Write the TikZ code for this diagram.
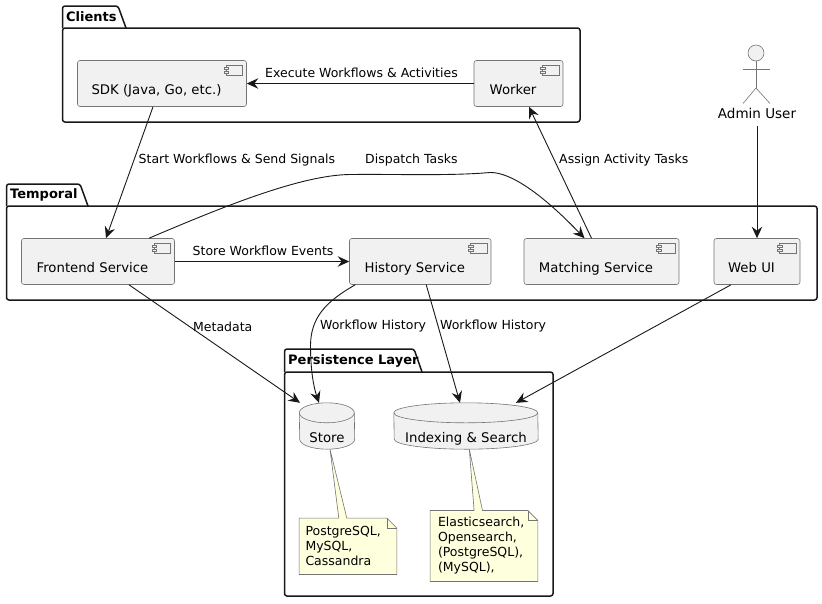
\documentclass[tikz,border=0pt]{standalone}
\usepackage{fontspec}
\setmainfont{DejaVu Sans}
\usetikzlibrary{arrows.meta, backgrounds}
\definecolor{boxfill}{HTML}{F1F1F1}
\definecolor{notefill}{HTML}{FEFFDD}
\definecolor{inkline}{HTML}{181818}
\tikzset{
  pkgline/.style={
    line width=1.5pt,
    color=inkline,
    rounded corners=2.5pt
  },
  pkgtitle/.style={
    font=\fontsize{13}{16}\selectfont\bfseries,
    color=black,
    inner sep=0pt
  },
  component/.style={
    draw=inkline!60,
    fill=boxfill,
    line width=0.6pt,
    rounded corners=2.5pt,
    minimum height=46pt,
    inner sep=0pt,
    text height=21pt,
    text depth=0pt,
    font=\fontsize{13.25}{16}\selectfont,
    execute at end node={\hspace*{11pt}}
  },
  database/.style={
    minimum height=46pt,
    inner sep=0pt,
    text height=32pt,
    text depth=0pt,
    font=\fontsize{13.3}{16}\selectfont
  },
  notebox/.style={
    inner sep=0pt,
    align=left,
    font=\fontsize{12.5}{15}\selectfont
  },
  flow/.style={
    -{Stealth[length=11.5pt, width=10.5pt, inset=4pt]},
    line width=0.9pt,
    color=inkline
  },
  flowlabel/.style={
    font=\fontsize{12.5}{15}\selectfont,
    inner sep=0pt
  },
  shapeline/.style={
    draw=inkline!60,
    line width=0.6pt
  }
}

\begin{document}
\begin{tikzpicture}[x=1pt, y=-1pt]
    \useasboundingbox (0, 0) rectangle (822, 603);

    % 三个包
    \draw[pkgline] (62.5, 28) -- (62.5, 6) -- (118, 6) -- (126, 28);
    \draw[pkgline] (62.5, 28) rectangle (580, 122);
    \node[pkgtitle, anchor=west] (clients) at (66, 17) {Clients};

    \draw[pkgline] (6.5, 206) -- (6.5, 184) -- (80, 184) -- (88, 206);
    \draw[pkgline] (6.5, 206) rectangle (817, 300);
    \node[pkgtitle, anchor=west] (temporal) at (10, 195) {Temporal};

    \draw[pkgline] (284.5, 372) -- (284.5, 349) -- (414, 349) -- (422, 372);
    \draw[pkgline] (284.5, 372) rectangle (553, 596);
    \node[pkgtitle, anchor=west] (persistence) at (288, 361) {Persistence Layer};

    % 组件
    \node[component, minimum width=169pt] (sdk) at (162, 83.5) {SDK (Java, Go, etc.)};
    \node[component, minimum width=89pt] (worker) at (518.5, 83.5) {Worker};
    \node[component, minimum width=153pt] (frontend) at (98, 261.5) {Frontend Service};
    \node[component, minimum width=141.5pt] (history) at (420.25, 261.5) {History Service};
    \node[component, minimum width=155pt] (matching) at (601.5, 261.5) {Matching Service};
    \node[component, minimum width=86pt] (webui) at (757, 261.5) {Web UI};

    % 组件右上角图标
    \foreach \n in {sdk, worker, frontend, history, matching, webui} {
      \draw[shapeline, fill=boxfill] ([xshift=-21pt, yshift=-5.5pt]\n.north east) rectangle ([xshift=-4.5pt, yshift=-15pt]\n.north east);
      \draw[shapeline, fill=boxfill] ([xshift=-23pt, yshift=-7.5pt]\n.north east) rectangle ([xshift=-18.5pt, yshift=-9.5pt]\n.north east);
      \draw[shapeline, fill=boxfill] ([xshift=-23pt, yshift=-11pt]\n.north east) rectangle ([xshift=-18.5pt, yshift=-13pt]\n.north east);
    }

    % 数据库
    \node[database, minimum width=55pt] (store) at (327, 426) {Store};
    \node[database, minimum width=144pt] (search) at (466, 426) {Indexing \& Search};
    \begin{pgfonlayer}{background}
      \foreach \n/\r in {store/27.5, search/72} {
        \draw[shapeline, fill=boxfill] ([yshift=-10pt]\n.north west)
          arc[start angle=180, end angle=360, x radius=\r, y radius=10]
          -- ([yshift=10pt]\n.south east)
          arc[start angle=0, end angle=180, x radius=\r, y radius=10] -- cycle;
        \draw[shapeline] ([yshift=-10pt]\n.north west)
          arc[start angle=180, end angle=0, x radius=\r, y radius=10];
      }
    \end{pgfonlayer}

    % 注释
    \node[notebox, minimum width=97.4pt, minimum height=56pt, text width=85pt] (storenote) at (348, 546.3) {PostgreSQL,\\MySQL,\\Cassandra};
    \node[notebox, minimum width=107.4pt, minimum height=70.6pt, text width=92pt] (searchnote) at (484, 546) {Elasticsearch,\\Opensearch,\\(PostgreSQL),\\(MySQL),};
    \begin{pgfonlayer}{background}
      \foreach \n/\d/\a/\b/\t in {storenote/store/39.7/47.7/3, searchnote/search/44/52.4/3.3} {
        \draw[shapeline, fill=notefill] (\n.south west) -- (\n.north west)
          -- ([xshift=\a pt]\n.north west) -- ([xshift=\t pt]\d.south)
          -- ([xshift=\b pt]\n.north west)
          -- ([xshift=-10pt]\n.north east) -- ([yshift=-10pt]\n.north east)
          -- (\n.south east) -- cycle;
        \draw[shapeline] ([xshift=-10pt]\n.north east) -- ([xshift=-10pt, yshift=-10pt]\n.north east) -- ([yshift=-10pt]\n.north east);
      }
    \end{pgfonlayer}

    % 管理员
    \node[font=\fontsize{13.5}{16}\selectfont, inner sep=0pt] (admin) at (757, 113.5) {Admin User};
    \draw[shapeline, fill=boxfill] (756, 53) circle[radius=8];
    \draw[shapeline] (756, 61) -- (756, 88) (743, 69.5) -- (770, 69.5);
    \draw[shapeline] (743, 103.5) -- (756, 88) -- (770, 103.5);

    % 连线
    \draw[flow] (worker.west) -- (sdk.east);
    \draw[flow] ([xshift=-9pt]sdk.south) -- ([xshift=8pt]frontend.north);
    \draw[flow] ([xshift=-10pt]matching.north) -- ([xshift=10.5pt]worker.south);
    \draw[flow] (frontend.east) -- (history.west);
    \draw[flow] (admin.south) ++(0, 7) -- (webui.north);
    \draw[flow] ([xshift=51pt]frontend.north) .. controls (220, 208) and (300, 175) .. (350, 174.5)
      .. controls (400, 174) and (450, 176) .. (490, 172.5)
      .. controls (520, 172) and (565, 218) .. ([xshift=-17pt]matching.north);
    \draw[flow] ([xshift=31pt]frontend.south) -- ([xshift=-27pt]store.north);
    \draw[flow] ([xshift=-65pt]history.south) .. controls (325, 302) and (311, 318) .. (310.5, 345)
      .. controls (310.5, 372) and (314, 388) .. ([xshift=-8pt]store.north);
    \draw[flow] ([xshift=6pt]history.south) -- ([xshift=-6pt]search.north);
    \draw[flow] ([xshift=-26pt]webui.south) -- ([xshift=50pt]search.north);

    % 连线文字
    \node[flowlabel, anchor=west] (executelabel) at (265, 72.5) {Execute Workflows \& Activities};
    \node[flowlabel, anchor=west] (startlabel) at (138.5, 160.5) {Start Workflows \& Send Signals};
    \node[flowlabel, anchor=west] (dispatchlabel) at (365, 160.5) {Dispatch Tasks};
    \node[flowlabel, anchor=west] (assignlabel) at (559, 160.5) {Assign Activity Tasks};
    \node[flowlabel, anchor=west] (storelabel) at (192.5, 250.5) {Store Workflow Events};
    \node[flowlabel, anchor=west] (metalabel) at (193, 326.5) {Metadata};
    \node[flowlabel, anchor=west] (historylabel) at (320, 326.5) {Workflow History};
    \node[flowlabel, anchor=west] (indexlabel) at (440, 326.5) {Workflow History};

  \end{tikzpicture}
\end{document}
